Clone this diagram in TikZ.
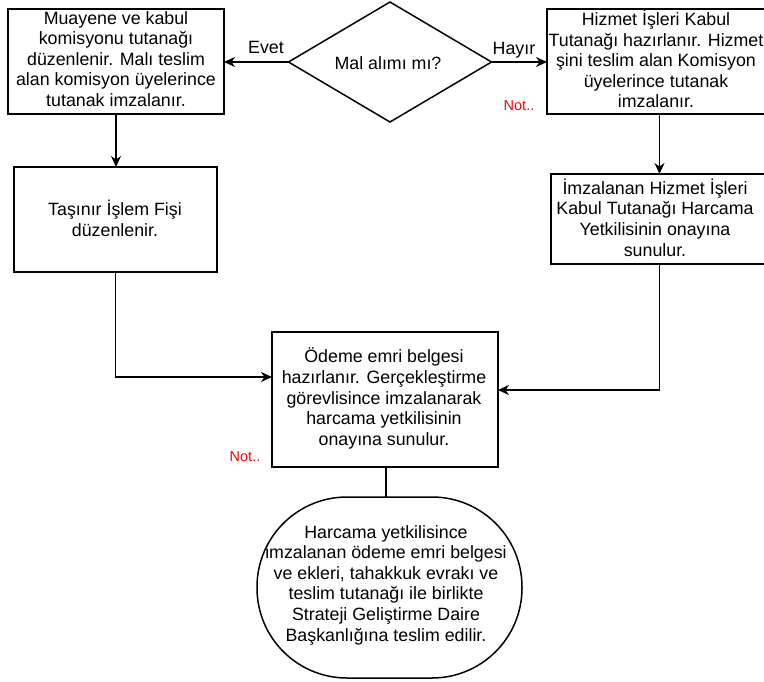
\documentclass[tikz,border=0pt]{standalone}
\usepackage{fontspec}
\setmainfont{Liberation Sans}
\usetikzlibrary{shapes.geometric,arrows.meta}
\begin{document}
\begin{tikzpicture}[x=1pt,y=-1pt,
  shapebox/.style={draw, line width=1.5pt, inner sep=0pt, outer sep=0pt, rectangle},
  txt/.style={align=center, inner sep=0pt, font=\fontsize{17.8}{20.6}\selectfont},
  lbl/.style={inner sep=0pt, font=\fontsize{17.8}{20.6}\selectfont},
  note/.style={inner sep=0pt, text=red, font=\fontsize{14.5}{17}\selectfont},
  arr/.style={line width=1.5pt, -{Stealth[length=11pt,width=10pt,inset=3.5pt]}},
  plain/.style={line width=1.5pt}]
\clip (0,0) rectangle (764,681);
\useasboundingbox (0,0) rectangle (764,681);
% shapes
\node[shapebox, minimum width=216pt, minimum height=105pt] (b1) at (116,61.5) {};
\node[shapebox, diamond, minimum width=203pt, minimum height=120pt] (dia) at (390,62) {};
\node[shapebox, minimum width=221pt, minimum height=105pt] (b2) at (657.5,61.5) {};
\node[shapebox, minimum width=203pt, minimum height=105pt] (b3) at (115.5,219.5) {};
\node[shapebox, minimum width=217pt, minimum height=90pt] (b4) at (659.5,219) {};
\node[shapebox, minimum width=226pt, minimum height=135pt] (b5) at (385,399.5) {};
\node[shapebox, minimum width=265pt, minimum height=181pt, rounded corners=90pt] (b6) at (389.5,587.5) {};
% texts
\node[txt] (t1) at (116,59) {Muayene ve kabul\\komisyonu tutanağı\\düzenlenir. Malı teslim\\alan komisyon üyelerince\\tutanak imzalanır.};
\node[txt] (td) at (388,63) {Mal alımı mı?};
\node[txt] (t2) at (656,59) {Hizmet İşleri Kabul\\Tutanağı hazırlanır. Hizmet\\şini teslim alan Komisyon\\üyelerince tutanak\\imzalanır.};
\node[txt] (t3) at (115,218.5) {Taşınır İşlem Fişi\\düzenlenir.};
\node[txt] (t4) at (655,217.5) {İmzalanan Hizmet İşleri\\Kabul Tutanağı Harcama\\Yetkilisinin onayına\\sunulur.};
\node[txt] (t5) at (384,398.5) {Ödeme emri belgesi\\hazırlanır. Gerçekleştirme\\görevlisince imzalanarak\\harcama yetkilisinin\\onayına sunulur.};
\node[txt] (t6) at (386,585) {Harcama yetkilisince\\imzalanan ödeme emri belgesi\\ve ekleri, tahakkuk evrakı ve\\teslim tutanağı ile birlikte\\Strateji Geliştirme Daire\\Başkanlığına teslim edilir.};
% labels
\node[lbl] (evet) at (266,47) {Evet};
\node[lbl] (hayir) at (514,50) {Hayır};
\node[note] (n1) at (519,106) {Not..};
\node[note] (n2) at (245,457) {Not..};
% connectors
\draw[arr] (dia.west) -- (dia.west -| b1.east);
\draw[arr] (dia.east) -- (dia.east -| b2.west);
\draw[arr] (b1.south) -- (b1.south |- b3.north);
\draw[arr] (b4.north |- b2.south) -- (b4.north);
\draw[arr] (b3.south) |- ([yshift=22.5pt]b5.west);
\draw[arr] (b4.south) |- ([yshift=9.5pt]b5.east);
\draw[plain] ([xshift=1pt]b5.south) -- ([xshift=1pt]b5.south |- b6.north);
\end{tikzpicture}
\end{document}
